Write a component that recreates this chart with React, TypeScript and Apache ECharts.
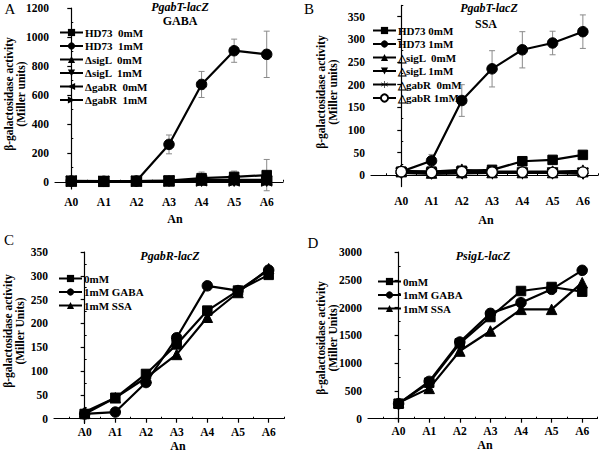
import React, { useEffect, useRef } from "react";
import * as echarts from "echarts";

const categories = ["A0", "A1", "A2", "A3", "A4", "A5", "A6"];
const catIdx = [0, 1, 2, 3, 4, 5, 6];
const minorX = [-0.5, 0.5, 1.5, 2.5, 3.5, 4.5, 5.5, 6.5];

// Panel A: PgabT-lacZ, GABA
const aNames = ["HD73  0mM", "HD73  1mM", "ΔsigL  0mM", "ΔsigL  1mM", "ΔgabR  0mM", "ΔgabR  1mM"];
const aHD73_0 = [5, 3, 5, 8, 25, 34, 46];
const aHD73_1 = [5, 3, 5, 258, 672, 905, 880];
const aSigL_0 = [5, 3, 5, 6, 12, 14, 14];
const aSigL_1 = [3, 2, 3, 4, 4, 4, 4];
const aGabR_0 = [6, 4, 5, 7, 7, 6, 6];
const aGabR_1 = [4, 3, 4, 5, 5, 5, 5];
const aErr_HD73_0 = [3, 3, 3, 8, 42, 40, 108];
const aErr_HD73_1 = [3, 3, 30, 65, 90, 80, 160];
const aYTicks = [0, 200, 400, 600, 800, 1000, 1200];
const aYMinor = [100, 300, 500, 700, 900, 1100];

// Panel B: PgabT-lacZ, SSA
const bNames = ["HD73 0mM", "HD73 1mM", "△sigL  0mM", "△sigL 1mM", "△gabR  0mM", "△gabR 1mM"];
const bHD73_0 = [8, 8, 10, 12, 31, 34, 45];
const bHD73_1 = [8, 32, 165, 235, 277, 292, 317];
const bSigL_0 = [8, 5, 6, 6, 6, 6, 8];
const bSigL_1 = [5, 3, 4, 5, 5, 5, 3];
const bGabR_0 = [10, 8, 12, 8, 8, 8, 10];
const bGabR_1 = [8, 6, 8, 7, 7, 6, 7];
const bErr_HD73_0 = [3, 3, 3, 3, 5, 5, 5];
const bErr_HD73_1 = [5, 14, 35, 40, 40, 26, 37];
const bErr_Other = [6, 6, 6, 6, 6, 6, 6];
const bYTicks = [0, 50, 100, 150, 200, 250, 300, 350];
const bYMinor = [25, 75, 125, 175, 225, 275, 325, 375];

// Panel C: PgabR-lacZ
const cdNames = ["0mM", "1mM GABA", "1mM SSA"];
const c0mM = [10, 44, 94, 156, 227, 269, 302];
const cGABA = [10, 14, 76, 170, 279, 269, 312];
const cSSA = [14, 44, 86, 135, 213, 265, 315];
const cYTicks = [0, 50, 100, 150, 200, 250, 300, 350];
const cYMinor = [25, 75, 125, 175, 225, 275, 325];

// Panel D: PsigL-lacZ
const d0mM = [270, 648, 1356, 1830, 2298, 2370, 2286];
const dGABA = [270, 672, 1380, 1896, 2088, 2328, 2670];
const dSSA = [288, 546, 1218, 1578, 1968, 1968, 2448];
const dYTicks = [0, 500, 1000, 1500, 2000, 2500, 3000];
const dYMinor = [250, 750, 1250, 1750, 2250, 2750];

const FONT = "Liberation Serif";

const starPath =
  "path://M4.6,0L5.4,0L5.4,10L4.6,10Z" +
  "M0.87,2.15L9.53,7.15L9.13,7.85L0.47,2.85Z" +
  "M0.47,7.15L9.13,2.15L9.53,2.85L0.87,7.85Z";

function pairs(vals: number[]) {
  return vals.map((v, i) => [i, v]);
}

function errData(vals: number[], errs: number[]) {
  return vals.map((v, i) => [i, v - errs[i], v + errs[i]]);
}

function errRender(_params: any, api: any) {
  const x = api.value(0);
  const lo = api.coord([x, api.value(1)]);
  const hi = api.coord([x, api.value(2)]);
  const cap = 3;
  const style = { stroke: "#8a8a8a", lineWidth: 1 };
  return {
    type: "group",
    children: [
      { type: "line", shape: { x1: hi[0], y1: hi[1], x2: lo[0], y2: lo[1] }, style },
      { type: "line", shape: { x1: hi[0] - cap, y1: hi[1], x2: hi[0] + cap, y2: hi[1] }, style },
      { type: "line", shape: { x1: lo[0] - cap, y1: lo[1], x2: lo[0] + cap, y2: lo[1] }, style },
    ],
  };
}

const labelStyle = { fontFamily: FONT, fontWeight: "bold" as const, fontSize: 11.5, color: "#000" };

function makeAxes(gi: number, xMin: number, yMin: number, yMax: number, yTicks: number[], yMinor: number[], xMargin: number) {
  const axisLine = { lineStyle: { color: "#000", width: 1.2 } };
  const xs = [
    {
      type: "value", gridIndex: gi, min: xMin, max: 6.5, splitLine: { show: false }, axisLine,
      axisTick: { customValues: catIdx, length: 4, lineStyle: { color: "#000", width: 1.2 } },
      axisLabel: { ...labelStyle, customValues: catIdx, margin: xMargin, formatter: (v: number) => categories[Math.round(v)] ?? "" },
    },
    {
      type: "value", gridIndex: gi, min: xMin, max: 6.5, splitLine: { show: false }, axisLine: { show: false },
      axisTick: { customValues: minorX.filter((m) => m > xMin), length: 2, lineStyle: { color: "#000", width: 1 } },
      axisLabel: { show: false },
    },
  ];
  const ys = [
    {
      type: "value", gridIndex: gi, min: yMin, max: yMax, splitLine: { show: false }, axisLine,
      axisTick: { customValues: yTicks, length: 4, lineStyle: { color: "#000", width: 1.2 } },
      axisLabel: { ...labelStyle, customValues: yTicks, margin: 6, formatter: (v: number) => String(v) },
    },
    {
      type: "value", gridIndex: gi, min: yMin, max: yMax, splitLine: { show: false }, axisLine: { show: false },
      axisTick: { customValues: yMinor, length: 2, lineStyle: { color: "#000", width: 1 } },
      axisLabel: { show: false },
    },
  ];
  return { xs, ys };
}

function lineSeries(name: string, vals: number[], gi: number, symbol: string, extra: any = {}) {
  return {
    type: "line", name, data: pairs(vals), xAxisIndex: gi * 2, yAxisIndex: gi * 2,
    symbol, symbolSize: 9.5, z: 3,
    lineStyle: { color: "#000", width: 2.2 },
    itemStyle: { color: "#000", borderColor: "#000" },
    ...extra,
  };
}

function errSeries(name: string, vals: number[], errs: number[], gi: number) {
  return {
    type: "custom", name, data: errData(vals, errs), xAxisIndex: gi * 2, yAxisIndex: gi * 2,
    encode: { x: 0, y: [1, 2] }, renderItem: errRender, z: 2, silent: true,
  };
}

function legend(names: string[], left: number, top: number) {
  return {
    data: names, left, top, orient: "vertical", itemWidth: 23, itemHeight: 9, itemGap: 2.5,
    selectedMode: false, padding: 0,
    textStyle: { fontFamily: FONT, fontWeight: "bold", fontSize: 11, color: "#000", padding: [0, 0, 0, -3] },
  };
}

function txt(text: string, x: number, y: number, font: string, extra: any = {}) {
  return {
    type: "text", x, y, ...extra,
    style: { text, font, fill: "#000", textAlign: "center", textVerticalAlign: "middle", lineHeight: 12 },
  };
}

export default function App() {
  const ref = useRef<HTMLDivElement>(null);
  useEffect(() => {
    document.body.style.margin = "0";
    const chart = echarts.init(ref.current!, null, { renderer: "svg" });
    const A = makeAxes(0, -0.5, -50, 1200, aYTicks, aYMinor, 7);
    const B = makeAxes(1, -1, -25, 375, bYTicks, bYMinor, 8);
    const C = makeAxes(2, -1, -10, 350, cYTicks, cYMinor, 2);
    const D = makeAxes(3, -1, -50, 3000, dYTicks, dYMinor, 3);
    const grid = (left: number, top: number, width: number, height: number) => ({
      left, top, width, height, containLabel: false, outerBoundsMode: "none",
    });
    const yName = "β-galactosidase activity\n(Miller units)";
    const yName2 = "β-galactosidase activity\n(Miller Units)";
    const rot = { rotation: Math.PI / 2 };
    const bold12 = `bold 11.5px "${FONT}"`;
    const titleF = `italic bold 12px "${FONT}"`;
    const letterF = `15px "${FONT}"`;
    chart.setOption({
      animation: false,
      backgroundColor: "#fff",
      grid: [grid(55, 8, 228, 181), grid(371, 5.4, 227, 181.2), grid(54, 252, 230, 171.5), grid(368, 252, 229.5, 169.5)],
      xAxis: [...A.xs, ...B.xs, ...C.xs, ...D.xs],
      yAxis: [...A.ys, ...B.ys, ...C.ys, ...D.ys],
      legend: [
        legend(aNames, 59, 27),
        legend(bNames, 372, 25),
        legend(cdNames, 58, 273),
        legend(cdNames, 377, 276),
      ],
      graphic: [
        txt("A", 10, 9, letterF),
        txt("B", 309, 9, letterF),
        txt("C", 9, 240, letterF),
        txt("D", 313, 243, letterF),
        txt("PgabT-lacZ", 180, 7, titleF),
        txt("GABA", 180, 21, `bold 12px "${FONT}"`),
        txt("PgabT-lacZ", 489, 8, titleF),
        txt("SSA", 486, 24, `bold 12px "${FONT}"`),
        txt("PgabR-lacZ", 170, 256, titleF),
        txt("PsigL-lacZ", 483, 256, titleF),
        txt("An", 175, 219, `bold 12px "${FONT}"`),
        txt("An", 486, 220, `bold 12px "${FONT}"`),
        txt("An", 178, 446, `bold 12px "${FONT}"`),
        txt("An", 485, 445, `bold 12px "${FONT}"`),
        txt(yName, 15, 94, bold12, rot),
        txt(yName, 327, 92, bold12, rot),
        txt(yName2, 14, 331, bold12, rot),
        txt(yName2, 327, 338, bold12, rot),
      ],
      series: [
        errSeries("eA0", aHD73_0, aErr_HD73_0, 0),
        errSeries("eA1", aHD73_1, aErr_HD73_1, 0),
        lineSeries(aNames[0], aHD73_0, 0, "rect"),
        lineSeries(aNames[1], aHD73_1, 0, "circle", { symbolSize: 10.5 }),
        lineSeries(aNames[2], aSigL_0, 0, "triangle", { symbolSize: 10.5 }),
        lineSeries(aNames[3], aSigL_1, 0, "triangle", { symbolSize: 10.5, symbolRotate: 180 }),
        lineSeries(aNames[4], aGabR_0, 0, "triangle", { symbolSize: 10.5, symbolRotate: 90 }),
        lineSeries(aNames[5], aGabR_1, 0, "triangle", { symbolSize: 10.5, symbolRotate: -90 }),

        errSeries("eB0", bHD73_0, bErr_HD73_0, 1),
        errSeries("eB1", bHD73_1, bErr_HD73_1, 1),
        errSeries("eB5", bGabR_1, bErr_Other, 1),
        lineSeries(bNames[0], bHD73_0, 1, "rect"),
        lineSeries(bNames[1], bHD73_1, 1, "circle", { symbolSize: 10.5 }),
        lineSeries(bNames[2], bSigL_0, 1, "triangle", { symbolSize: 10.5 }),
        lineSeries(bNames[3], bSigL_1, 1, "triangle", { symbolSize: 10.5, symbolRotate: 180 }),
        lineSeries(bNames[4], bGabR_0, 1, starPath, { symbolSize: 11 }),
        lineSeries(bNames[5], bGabR_1, 1, "circle", {
          symbolSize: 10.5, itemStyle: { color: "#fff", borderColor: "#000", borderWidth: 1.2 },
        }),

        lineSeries(cdNames[0], c0mM, 2, "rect"),
        lineSeries(cdNames[1], cGABA, 2, "circle", { symbolSize: 10.5 }),
        lineSeries(cdNames[2], cSSA, 2, "triangle", { symbolSize: 10.5 }),

        lineSeries(cdNames[0], d0mM, 3, "rect"),
        lineSeries(cdNames[1], dGABA, 3, "circle", { symbolSize: 10.5 }),
        lineSeries(cdNames[2], dSSA, 3, "triangle", { symbolSize: 10.5 }),
      ],
    });
    return () => chart.dispose();
  }, []);
  return <div ref={ref} style={{ width: 600, height: 452 }} />;
}
